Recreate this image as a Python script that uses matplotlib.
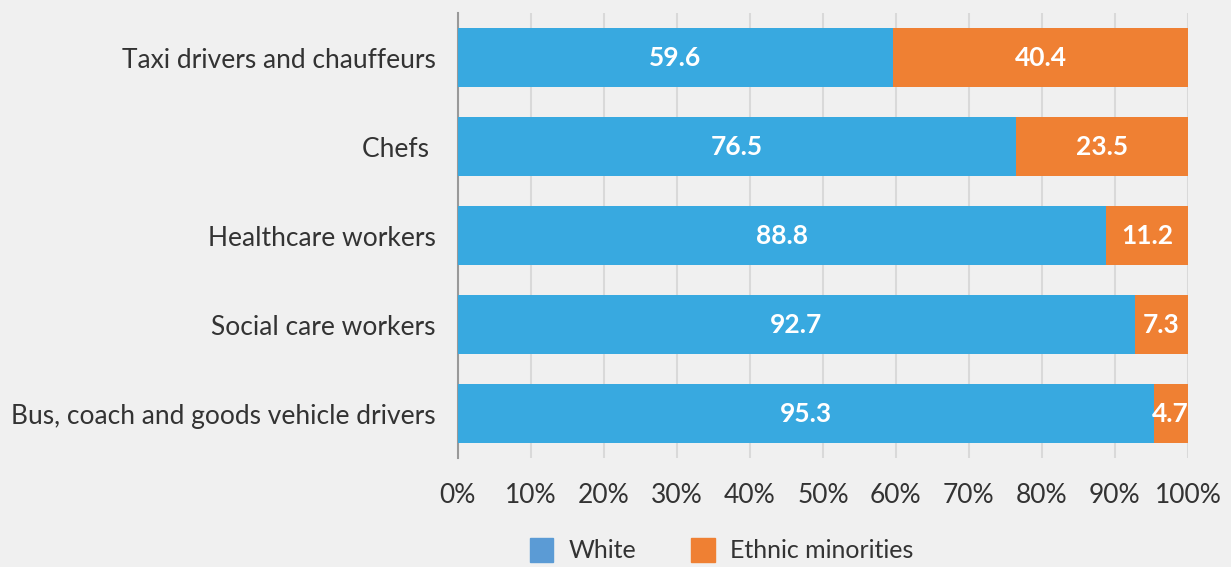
import matplotlib.pyplot as plt
from matplotlib.patches import Patch

# Datos
categorias = ["Taxi drivers and chauffeurs", "Chefs ", "Healthcare workers",
              "Social care workers", "Bus, coach and goods vehicle drivers"]
white = [59.6, 76.5, 88.8, 92.7, 95.3]
minorias = [40.4, 23.5, 11.2, 7.3, 4.7]
ticks = list(range(0, 101, 10))

c_white = "#38a9e0"
c_min = "#ef8033"
fondo = "#f0f0f0"
texto = "#333333"

plt.rcParams["font.family"] = ["Lato", "DejaVu Sans"]

fig = plt.figure(figsize=(12.31, 5.67), dpi=100, facecolor=fondo)
ax = fig.add_axes([0.372, 0.192, 0.593, 0.785], facecolor=fondo)

y = list(range(len(categorias)))
ax.barh(y, white, height=0.66, color=c_white, zorder=3)
ax.barh(y, minorias, left=white, height=0.66, color=c_min, zorder=3)

for i in y:
    ax.text(white[i] / 2, i, f"{white[i]:.1f}", ha="center", va="center",
            color="white", fontsize=19, fontweight="bold", zorder=4)
    ax.text(white[i] + minorias[i] / 2, i, f"{minorias[i]:.1f}", ha="center",
            va="center", color="white", fontsize=19, fontweight="bold", zorder=4)

ax.set_ylim(len(categorias) - 0.5, -0.5)
ax.set_xlim(0, 100)
ax.set_yticks(y)
ax.set_yticklabels(categorias, fontsize=19, color=texto)
ax.set_xticks(ticks)
ax.set_xticklabels([f"{t}%" for t in ticks], fontsize=19, color=texto)
ax.tick_params(axis="y", length=0, pad=16)
ax.tick_params(axis="x", length=0, pad=18)

ax.grid(axis="x", color="#d9d9d9", linewidth=1.5, zorder=0)
for s in ["top", "right", "bottom"]:
    ax.spines[s].set_visible(False)
ax.spines["left"].set_color("#999999")
ax.spines["left"].set_linewidth(1.5)

handles = [Patch(color="#5b9bd5", label="White"),
           Patch(color=c_min, label="Ethnic minorities")]
fig.legend(handles=handles, loc="center", bbox_to_anchor=(0.586, 0.03),
           ncol=2, frameon=False, fontsize=18, labelcolor=texto,
           handlelength=0.95, handleheight=1.1, columnspacing=2.2, handletextpad=0.6)

fig.savefig("out.png", dpi=100, facecolor=fondo)
